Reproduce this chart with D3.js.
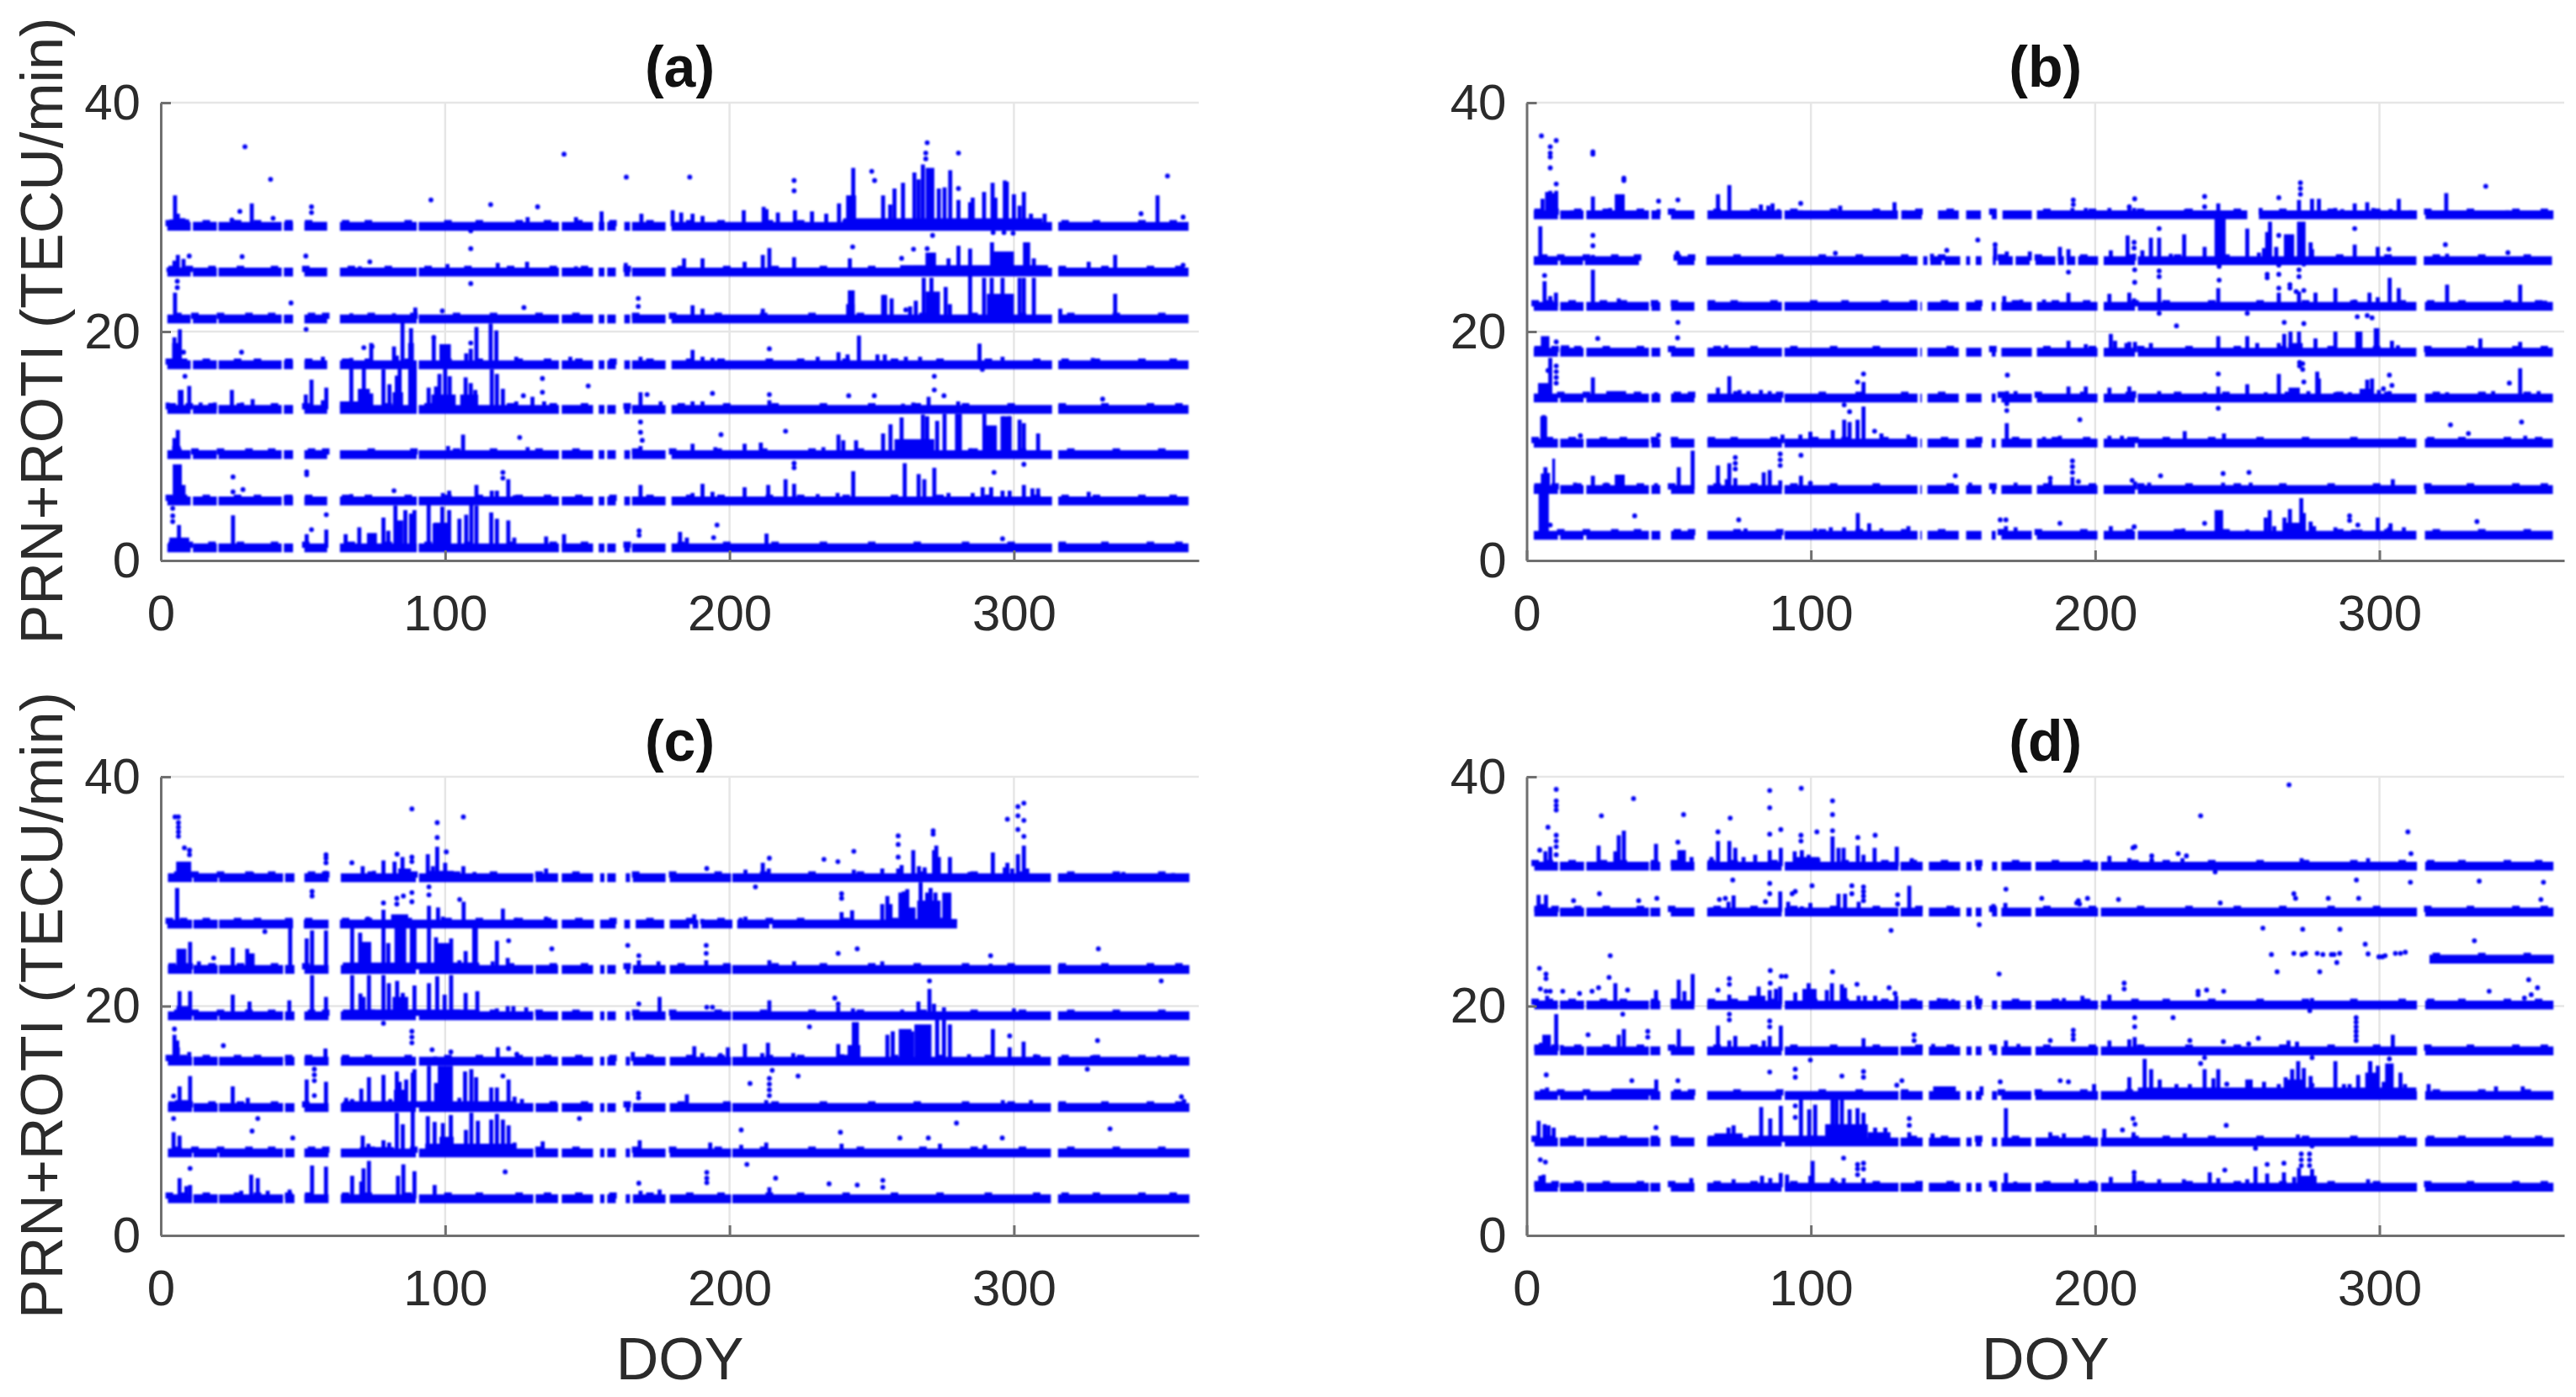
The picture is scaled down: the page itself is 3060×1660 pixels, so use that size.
<!DOCTYPE html>
<html><head><meta charset="utf-8">
<script src="https://cdnjs.cloudflare.com/ajax/libs/d3/7.8.5/d3.min.js"></script>
<style>html,body{margin:0;padding:0;background:#fff}svg{display:block}text{font-family:"Liberation Sans",Arial,sans-serif;fill:#2b2b2b}</style>
</head><body><svg id="c" width="3060" height="1660"></svg>
<script>
const panelTitles=['(a)','(b)','(c)','(d)'];
const doyTicks=[0,100,200,300];
const rotiTicks=[0,20,40];
const doyDomain=[0,365];
const rotiDomain=[0,40];
const yLabel='PRN+ROTI (TECU/min)';
const xLabel='DOY';

// row baselines, top row first
const basesA=[29.2,25.2,21.1,17.1,13.2,9.25,5.2,1.1];
const basesB=[30.2,26.2,22.2,18.2,14.2,10.25,6.2,2.2];
const basesC=[31.2,27.15,23.2,19.15,15.2,11.15,7.2,3.2];
const basesD=[32.2,28.2,24.1,20.1,16.1,12.2,8.15,4.2];

// days with data
const segmentsA=[[2.3,10.5],[11.3,19.7],[20.3,42.5],[43.3,46.5],[50.5,58.5],[63,90],[90.7,140],[141,152],[154,156],[157,160],[163,165],[165.7,177.5],[179.6,313.4],[315.6,361.4]];
const segmentsB=[[2.5,11],[11.8,20],[21,43],[43.9,47],[50.8,59],[63.6,89.8],[90.7,137.5],[138.5,139],[141,152],[154.6,160],[163.6,165],[167,177.7],[179.5,200.8],[203,214],[215,313],[316,361]];
const segmentsB0=[[2.5,11],[11.8,20],[21,43],[43.9,47],[50.8,59],[63.6,89.8],[90.7,130.6],[131.8,139],[144.7,152],[154.6,159.8],[163.6,165.4],[167.4,177.7],[179.5,253.5],[257.6,313.2],[316.2,361.2]];
const segmentsB1=[[2.5,11],[11.8,19.8],[20.5,39.5],[53,59],[63.2,137.5],[139.5,141],[142,146],[147,152.5],[154.6,156],[158,160],[164,165],[166,171],[172,177],[179,186],[187,189],[190,193],[194,201],[203,214],[215,313],[315.6,360.7]];
const segmentsC=[[2.5,11],[11.5,20],[20.5,43],[43.7,47],[50.5,59],[63.3,89.7],[90.8,131],[131.8,139.7],[141,152],[154.5,156],[157,160],[163.5,165],[166,177.5],[179,200.5],[201,313],[315.5,361.7]];
const segmentsC1=[[2.3,11],[11.5,20],[20.5,46.5],[50.3,59],[63,139.5],[141,152.3],[154.5,160],[163,165],[167,177],[179,186],[187,189],[190,201],[202.7,214],[215,280]];
const segmentsD=[[2.7,11],[11.7,20.2],[21,43],[43.5,47],[50.7,59],[63.5,89.7],[90.8,130.8],[131.5,139.3],[141.5,152.5],[154.7,156.5],[158,160],[163.7,165.5],[167,177.5],[179,201],[202,313.2],[316.1,361.2]];
const segmentsD2=[[317.6,361.3]];

// low bumps along the row tops: day of each bump
const bumpDays1=[3,8,16,27,34,45,52,65,73,87,101,112,126,136,147,159,172,186,197,214,225,241,258,274,291,308,318,329,345,356];
const bumpDays2=[4,10,18,28,40,51,67,80,94,108,123,138,149,164,183,199,216,233,250,266,283,299,317,332,348,358];
const bumpDays3=[6,12,21,31,39,53,58,74,89,104,117,133,146,167,180,196,212,229,246,268,286,303,320,336,352];

// columns rising from a row: [doy, top]
const spikesA=[
[[5,31.9],[6,30.3],[7,29.9],[8,29.9],[32,31.2],[129,30],[146,30],[155,30.5],[169,30.3],[180,30.6],[183,30.4],[187,30.3],[190.5,30.1],[205,30.6],[212,30.9],[213,30.7],[217,30.4],[223,30.6],[229,30.5],[234,30.3],[238.5,31.2],[243.5,34.3],[254,31.9],[256.5,31.1],[258,32.5],[261,33],[265,33.9],[266.5,33.3],[268,34.6],[273.6,32.5],[275.6,32.6],[277.6,34.1],[280.5,31.5],[284.6,31.3],[285.5,31.7],[289.5,32.2],[292.5,33],[293.5,31.7],[296.8,33.2],[297.5,33.1],[300,32],[302,31],[303.5,32.2],[306,30.3],[310.8,30.3],[350.5,31.9]],
[[6,26.7],[8,26.35],[4.8,26.2],[70,25.7],[100.8,25.9],[118.5,26],[128.8,26.1],[146,25.7],[163.5,26],[184,26.4],[190.5,26.4],[205.3,26.1],[211.7,26.7],[214,27.3],[222.7,26.5],[242.3,26.4],[277,26.4],[280.5,27.5],[284.6,27.25],[292.3,27.8],[303.9,27.8],[305,27.8],[307,26.4],[326.3,26.1],[335.6,26.7]],
[[5,23.4],[67,21.6],[82,21.6],[89.5,22.1],[187,22.3],[190.5,22],[211.7,22],[242.3,23.6],[243.3,23.6],[254,23.2],[254.7,23.2],[257,22.9],[265.5,22.7],[263.5,22.2],[268.3,24.7],[271,24.7],[276,23.9],[277.5,22.4],[284.6,24.9],[289.5,24.7],[292.2,24.7],[296,24.7],[302,24.7],[303.5,24.7],[307,24.7],[335.6,23.3],[316.3,22]],
[[6.7,20.2],[4.8,19.5],[85,20.8],[88,20.3],[67,17.7],[74,19],[82,18.7],[83,17.9],[96,19.5],[107.4,18.1],[109,18.5],[111,20.4],[116,20.7],[118,20.1],[125,17.8],[45,17.5],[57,17.8],[52,17.5],[144,17.8],[168.7,17.8],[187,18.4],[190.5,17.8],[194,17.7],[231,17.8],[238.3,18.2],[241.5,18],[245.5,19.65],[252,18],[254.6,18],[262,17.8],[267,17.8],[287.9,18.95],[296,17.8],[327.7,17.7]],
[[10,15.25],[2.4,13.8],[25,14.9],[32.3,14.1],[28.6,13.8],[14,13.8],[19,13.8],[53,15.8],[51,14.5],[58.2,15.1],[57,14],[67,16.9],[71.4,16.9],[74,14.6],[78.3,16.7],[80.4,15.4],[83,16.15],[84,16.9],[94.2,15.1],[96.8,15.2],[98,16.3],[100,16.9],[101.6,16.1],[107.2,16],[109,15.5],[110.6,14.9],[116.4,16.7],[118.2,16.3],[120.3,15],[125,13.9],[130.7,14.3],[134.8,13.9],[168.7,14.7],[175.8,13.9],[187,13.9],[190.5,13.9],[214,14],[261,13.7],[264.6,13.8],[270,14.3],[280.4,13.9]],
[[6,11.4],[4.8,10.7],[106.3,11],[101,10],[129,9.9],[168.7,10],[187,10.2],[195,9.9],[205.3,10.2],[211,10.3],[238.3,11],[240,10.5],[244.5,10.5],[233,9.9],[254,11.1],[256.6,11.9],[260.5,12.5],[268,12.75],[269.5,12.6],[273,12.2],[275.6,12.8],[280,12.8],[281,12.8],[289.6,12.8],[296,12.6],[298.5,12.6],[302,12.3],[303.5,12],[308.5,11.1],[284.6,9.8]],
[[8,6.6],[44,5.7],[67,5.8],[99.2,5.9],[101.4,6.1],[111,6.6],[116.4,6.1],[118.2,6.1],[122.2,7.1],[124.4,5.7],[135.5,5.7],[168.7,6.6],[187,5.9],[190.5,6.7],[194,6],[205.3,6.4],[213.6,6.6],[219.7,7.1],[222.7,6.7],[231,5.8],[238,5.9],[243.5,7.8],[261.6,8.5],[266.5,7.55],[268.5,7.1],[272,8.1],[277,5.9],[285.5,5.9],[289,6.4],[292,6.4],[296,6.1],[298.5,6.1],[303.5,6.6],[306.5,6.3],[308.5,6.3],[326.3,6]],
[[6.4,3.1],[25.4,3.95],[51.3,2.3],[58.2,2.7],[65,2.3],[69.8,2.9],[78.3,3.75],[80,2.6],[82.5,4.8],[86,4.4],[89.2,4.4],[88,4.1],[94.2,4.9],[96.3,3.25],[99,4.7],[101.4,4.4],[105,3.65],[107.4,4],[109.2,4.9],[111,4.8],[116.2,4.2],[118.2,3.65],[122.2,3.5],[124.3,2],[135.5,2.1],[141.8,2.3],[182.6,2.5],[185,2],[213,2.35]]];
const blocksA=[
[[3,10,29.8],[240,310,29.9],[241,244.5,31.9],[269,272,34.3]],
[[2,10,25.6],[260,312,25.8],[268.9,272.6,26.9],[292,300,27]],
[[241,244,22.4],[269,274,23.5],[290.5,300,23.3]],
[[4,7,19],[87,89,19],[98,102,18.9]],
[[6,8,14.9],[63,70,13.9],[69.3,73.5,15],[81.5,85.2,14.7],[87,90,16.9],[95.2,103.7,14.5],[105.3,111.6,14.5]],
[[4,7,10],[258,272,10.6],[290,294,11.8],[296,299,12.6]],
[[4.2,7.4,8.4]],
[[3,10,2],[72.5,76,2.4],[82,85.2,3.5],[96,101,3.3]]];
const dotsA=[
[[29.6,36.15],[38.6,33.3],[95,31.5],[116,31.1],[132.5,30.9],[141.8,35.5],[163.7,33.5],[27.8,30.5],[25,29.75],[39.5,29.9],[53,30.9],[53,30.4],[109,28.8],[186,33.5],[222.7,33.2],[222.7,32.3],[250,34],[251,33.2],[280.5,32.5],[280.5,35.6],[269.5,36.5],[269,35.6],[269,35.1],[354,33.6],[344.7,30.3],[359.5,30]],
[[10,26.6],[28.6,26.55],[51,26.6],[73.5,26.1],[109,27.25],[243.3,27.4],[260.5,26.4],[264.7,27.2],[269.5,27.25],[271.4,28.4],[292.7,28.65],[296.5,28.65],[299.7,28.6],[359.5,25.8]],
[[5.8,24.4],[5.8,23.85],[45.8,22.5],[109,24.2],[99,21.8],[127.7,22.1],[167.9,22.9],[167.9,22.2],[262,21.9]],
[[8,18.2],[28.4,18.2],[71.4,18.6],[74.3,18.7],[96,19.5],[109,19],[51.1,20.2],[214,18.5],[288.9,16.7]],
[[8.5,16.1],[127.5,14.4],[134.2,15.9],[134.2,14.7],[150.3,15.25],[171,14.5],[194,14.6],[214,14.5],[241.9,14.4],[250.9,14.4],[272,16.1],[272,14.9],[275.4,14.4],[331.2,14.1]],
[[126.2,10.75],[168.7,12.1],[168.7,11.2],[169.3,10.5],[197,11],[219.7,11.3]],
[[25.4,7.3],[25.4,6],[28.9,6.2],[51.3,7.75],[51.3,7.5],[82,6.1],[120.3,7.7],[120.3,7.2],[293,7.7],[303.5,8.4],[222.7,8.5],[222.7,8.1]],
[[4.2,4.55],[4.2,3.9],[4.2,3.4],[58.2,4],[53,2.7],[168.2,2.6],[168.2,2.2],[195.6,3.1],[194.4,2],[296,1.9]]];

const spikesB=[
[[5.6,31.6],[7.2,32.2],[8.3,32.3],[9.5,32.1],[10.4,32.3],[16,30.6],[23.3,31.8],[29.4,30.8],[39.4,30.6],[46.4,30.7],[67.3,32],[71.3,32.8],[82.4,31.1],[85,31],[86.5,31.2],[88.6,30.7],[96.4,30.6],[110.3,31],[129.4,31.3],[133,30.6],[164.2,30.5],[192,30.8],[196.7,30.8],[205,30.8],[212,31],[213.7,30.8],[231.9,30.7],[243.3,31.2],[258.2,30.8],[271.7,31.5],[276.3,31.6],[278.7,31.6],[284.5,30.8],[286.9,30.7],[291.3,31.2],[295.7,31.3],[297.8,30.8],[303.9,30.7],[306.8,31.6],[310.9,30.6],[323.5,32.1],[345,30.6]],
[[4.8,29.2],[23.3,26.7],[142.6,26.8],[164.8,27.4],[168.9,27],[177,27],[187.6,27.4],[190.6,27.2],[205.5,27.1],[211.4,28.4],[213.7,26.8],[216.6,27.1],[219.6,28.2],[222.5,28.2],[226.6,26.8],[231.3,28.5],[238.5,27.4],[253.5,29],[257.6,26.9],[259.4,27.3],[260.5,28.7],[261.5,29.6],[263.7,27.4],[275.8,27.8],[276.3,27.2],[291.3,27.6],[299.4,27.4],[323.8,26.8]],
[[6.3,24.4],[8.3,23.1],[10.3,23.4],[23.3,25.4],[32.4,22.9],[75,22.6],[168,23.1],[174,22.8],[182,22.8],[190.6,23.4],[205,23.3],[212,23.4],[213.7,22.9],[222.5,23.8],[243.3,23.8],[264.6,23.4],[277.5,23.4],[284.5,23.8],[291.3,22.8],[296.5,23.4],[299.4,23],[303.6,24.7],[306.8,23.8],[323.8,24.1],[349.5,24.1],[271.7,23.5]],
[[70.2,18.8],[190.6,19.2],[205.5,19.8],[207,19.2],[211,19],[212,19.1],[214,19.1],[219.6,19],[196.7,18.9],[243.3,19.6],[253.5,19.6],[257,19],[264.6,19],[266.5,19.8],[268.7,20],[271.7,20],[277.5,19.4],[284.5,20],[304.4,19.2],[306.5,18.8],[335.5,19.4],[349.5,19.1]],
[[8.3,17.7],[23.3,16],[45.5,14.7],[67.3,15.1],[71.3,16.1],[73.4,14.8],[74.9,14.9],[78,14.8],[82.4,14.9],[85.5,14.8],[118.5,15.6],[169,14.8],[172,14.8],[190.6,15.2],[196.7,15.2],[205,15.1],[212,15.2],[213.7,14.8],[222.5,14.8],[238.6,14.7],[243.3,15.2],[253.5,15.4],[260,14.7],[264.6,16.3],[278.1,16.5],[278.7,15.9],[275,14.8],[284.5,14.7],[289.6,14.7],[295.7,15.8],[297.4,15.9],[299.8,14.9],[303.5,14.8],[349.5,16.8],[323.8,14.7],[336.7,14.7],[340,14.8],[356,14.8]],
[[6,12.7],[90,11],[96.3,11],[99.8,11.25],[102,10.8],[107.7,11.4],[111.7,12.3],[113.6,12.1],[116.4,12.3],[118.5,13.45],[124.8,11.1],[134.3,11],[168.9,12],[171.9,10.8],[182,10.8],[187.6,10.9],[205,10.9],[209.4,10.9],[212,10.8],[231.5,11.3],[245.3,11.1],[351.3,10.9]],
[[6.6,8.15],[7.5,7.65],[17,6.8],[23.3,7.4],[28,6.8],[45.5,6.75],[53.5,8.15],[58.4,9.6],[67.3,8.3],[70.4,7.1],[71.3,8.5],[73.4,7.2],[83.4,7.7],[85.5,7.9],[89.2,7],[96.5,7.4],[156,6.8],[172,6.8],[184.2,7],[192,7.3],[214,6.9],[219,6.8],[245,6.8],[254.7,6.8],[304.7,7.1]],
[[77,2.8],[101.5,2.8],[107,2.9],[111.7,2.9],[116.5,4.15],[120.5,3.25],[124.8,2.8],[134.3,3],[168.6,3],[172,2.9],[205.5,3],[231,2.8],[253.5,2.7],[260,3.75],[261.4,4.4],[263,3],[266.6,3.75],[268.5,4.5],[270.5,3.2],[272.5,5.45],[273.4,4.15],[275.8,3.4],[277,3],[284.5,2.9],[299.4,3.75],[303.9,3.25],[303.3,2.9],[308.6,2.9]]];
const blocksB=[
[[31,34.5,32]],
[[242,245.9,30],[266.4,270,28.5],[271,274,29.6]],
[[355.4,359,22.7]],
[[5,8,19.6],[12,15,18.8],[268,273,19],[291.5,294,20],[298,300,20.3]],
[[4,8,15.5],[28,35,14.8],[268,272,15.1],[293,298,15]],
[[4.8,7.2,12.6]],
[[5,8,7.6],[9,10,8.9],[31,34.5,7.5]],
[[4.2,7.8,5.9],[242,245,4.4],[266,274,3.3],[290,294,2.7]]];
const dotsB=[
[[5.2,37.1],[8.3,36.15],[8.3,35.6],[8.3,35.25],[8.3,34.3],[10.4,36.7],[23.3,35.5],[23.3,35.7],[34.2,33.2],[34.2,33.4],[10.4,32.9],[46.4,31.4],[53.2,31.5],[96.4,31.2],[192.3,31.5],[192.3,31.1],[213.9,31.6],[212,30.9],[238.5,31.8],[238.5,30.9],[264.6,31.7],[272.2,33],[272.2,32.5],[272.2,32],[337.4,32.7]],
[[23.3,28.4],[23.3,27.5],[53,26.85],[158.7,28],[147.8,27.1],[108.6,26.85],[164.8,27.6],[213.7,27.8],[213.7,27.3],[222.5,29],[264.6,28.4],[291.3,29],[303.3,27.2],[323.2,27.6],[345.2,26.9],[243.6,25.7],[264.6,25.8],[273.4,25.9]],
[[6.3,24.9],[190.6,25.2],[213.9,25.4],[213.9,24.3],[222.5,25.3],[222.5,24.8],[243.6,24.5],[260.5,25],[260.5,24.7],[264.6,25],[264.6,23.8],[268.5,24.1],[268.5,23.8],[271.7,25.4],[271.7,24.8],[270.7,23.5],[273.4,23.6]],
[[10.4,19.1],[25,19.4],[53.2,20.8],[53.1,19.45],[253.5,21.6],[222.5,21.6],[228.6,20.5],[266.5,20.8],[273.4,20.7],[292.2,21.3],[295.7,21.4],[297.4,21.2]],
[[7.5,16.6],[10.4,17],[10.4,16.5],[10.4,16],[10.4,15.5],[118.5,16.3],[116.4,15.6],[169.1,16.2],[243.3,16.3],[271.9,17.3],[271.9,17],[273,17.2],[273,16.7],[273.4,15.6],[301.4,15],[303.5,16.2],[304.4,15.3],[345.7,15.5]],
[[18.9,10.9],[46.4,10.95],[111.7,13.6],[113.6,13],[122.4,11.3],[168.9,13.7],[168.9,13.1],[194.6,12.3],[243.3,13.3],[325,11.85],[331.3,11.1],[350,12.1]],
[[96.5,9.2],[99.8,6.75],[150.8,7.4],[73.4,9],[73.4,8.5],[73.4,8],[89.2,9.3],[89.2,8.8],[89.2,8.3],[184.2,7.2],[192,8.7],[192,8.2],[192,7.7],[194.1,6.9],[213,7],[223,7.4],[245,7.6],[254.1,7.7]],
[[8.3,3.1],[38,3.9],[74.6,3.55],[166.6,3.55],[168.6,3.55],[187.6,3.25],[213.7,2.95],[238.5,3.25],[289.5,3.9],[289.5,3.5],[292.4,3.1],[334.3,3.4]]];

const spikesC=[
[[32.1,31.7],[58,31.8],[71,32.2],[75,31.8],[78.3,32.7],[82.2,32.6],[85,33],[93.9,33.25],[95.7,32.2],[97.2,33.9],[100,32.5],[106.4,32.2],[110.3,31.7],[135.5,32],[133,31.7],[205.6,31.9],[211.7,32.5],[213.8,32],[243.7,31.9],[253.7,32],[259.3,32],[260.5,32.3],[264.6,33.6],[266.6,32.2],[268.6,32.1],[271.9,33.6],[272.7,34],[273.6,33],[277.5,33],[284.4,31.7],[292.6,33.4],[296.8,32.1],[297.7,32.5],[299.4,32],[301.4,33.25],[303.5,34],[304.7,32],[338.5,31.7],[356,31.6]],
[[78.3,28.4],[94.3,28.75],[97.5,28.6],[99.2,27.8],[106.5,29.1],[72.8,27.8],[120.3,28.5],[124.8,27.7],[135.5,27.8],[187.6,28],[190.4,27.6],[203.9,27.7],[205.6,27.8],[239.4,28.2],[243.1,28.35],[253.7,28.9],[255.5,29.6],[256.6,28.9],[260.1,29.9],[261.3,30],[262.5,30.2],[267.2,30.8],[269.5,29.9],[270.7,30.3],[272.4,29.9]],
[[45.5,27],[10.3,25.6],[25.3,25.1],[30.4,25],[51.3,25.9],[53.2,26.6],[58.1,26.6],[67.3,27],[70.1,26.4],[78.3,27],[80,25.5],[89.2,27],[88.3,27],[94.3,27],[96.8,26],[102.1,25.9],[105,24],[107.2,24.8],[118.2,25.7],[122,24.2],[116.7,23.9],[13.4,23.9],[191.8,24],[214,24],[222.7,23.9],[253.7,23.9],[291.8,23.7],[168.1,24],[175,23.9]],
[[6.6,21.3],[10.3,21.3],[25.3,21],[31.2,20.4],[45.2,20.5],[53.2,22.7],[58.1,20.8],[67.3,22.7],[70.2,21.1],[71.3,20.8],[73.2,22.7],[78.3,22.7],[80.2,22],[83.1,22.2],[85.1,21.15],[89.2,21.8],[94.3,22],[97.2,22.6],[99.8,21],[102.1,22.7],[107.2,21.15],[111.3,21.3],[118.2,19.8],[122,20],[124,20],[128.5,19.9],[175.4,20.8],[214,20.5],[238.2,20],[243.4,19.8],[266.4,20.4],[270.3,21.5],[271.9,20.2],[275.4,19.9],[260.7,19.7],[300,19.8]],
[[4.8,17.5],[6,16.4],[10,16],[45,15.7],[57.9,16.3],[96.5,15.6],[118.5,16.4],[166,16],[171.3,15.8],[187.6,16.5],[190.4,15.9],[192.8,15.6],[196.8,15.9],[199.4,16.4],[205.4,16.7],[211.5,15.9],[213.5,16.8],[222.4,15.9],[238.2,16.7],[239.6,15.8],[255.5,17.5],[257.4,17.8],[264.2,17.8],[273,19],[275.4,18.9],[277.5,18.4],[284.2,15.8],[292.6,18],[298.5,16.4],[303.4,16.9],[307.6,15.8],[327.5,15.7],[351,15.7]],
[[6.6,13],[10.3,13.9],[25.3,13],[30.6,12],[51.3,13.6],[58.1,13.4],[65.2,12],[67.3,11.9],[70.5,12.8],[73.2,13.8],[78.3,14],[80.7,11.9],[83,14.3],[84,13.4],[86.3,13.6],[88.6,14.2],[89.2,14.5],[94.3,14.8],[96.8,13.3],[105,12],[107,14.3],[109.2,14.5],[110.9,13.8],[116.2,12.9],[118.2,12.9],[122.3,13.6],[124.4,12.1],[127,11.9],[185,12.3],[212.9,11.8],[296.1,11.8],[306,11.8]],
[[4.5,9],[6.6,8.7],[71,8.7],[73,8],[78.3,8.3],[80.3,8.1],[83,10.7],[85.1,9.7],[88.6,10.8],[93.9,10.4],[96.3,9.9],[99.2,9.8],[102,10.5],[107.3,9.2],[109.2,10.7],[111.5,10],[116.2,10.1],[118.2,10.6],[120.3,10.1],[122.3,9.6],[124.4,8.1],[134.3,8.2],[168.4,8.3],[193.2,8.1],[204.1,7.9],[212.9,8.1],[239.4,8],[274,8]],
[[6.6,5],[10.3,4.4],[9,4.3],[31.8,5.3],[34.1,5],[28.3,3.9],[37.6,3.9],[45.3,4],[53.2,6.1],[58.1,6],[67.3,5.2],[70.5,4.7],[71.3,5.85],[73.2,6.5],[83.4,5.2],[85.3,6.2],[89.2,5.6],[96.3,4.4],[168.7,3.9],[175.4,4],[214,4.2]]];
const blocksC=[
[[5.4,10.7,32.6],[83.5,88,32],[94,103,31.8]],
[[5,6.5,30.3],[81,87,28],[260.7,265.4,28.6],[266,274.2,29.2],[274.8,278,29.9],[258,280,27.6]],
[[5.5,9,25],[30,33,24.6],[70,74,25.6],[82.2,86.3,27],[96.5,102,25.5],[109.5,111.5,26.8],[64,112,23.8]],
[[5.5,10.5,20],[81.5,87,20.8],[64,112,19.7]],
[[4.5,6.5,17],[241.5,246,16.6],[243,245.5,18.6],[259.5,264,18],[265,271,18.4]],
[[5,10.5,11.8],[82,86.5,12.7],[97.4,102.7,14.8],[64,125,11.7]],
[[98,103,8.6],[70,82,7.7],[93,125,8]],
[]];
const dotsC=[
[[88.3,37.2],[97.2,36],[106.4,36.5],[97.2,34.7],[8.3,33.8],[10.1,33.6],[10.1,33.2],[6.2,36.5],[6.2,36],[6.2,35.6],[6.2,35.2],[6.2,34.8],[5,36.5],[58.1,33.2],[58.1,32.9],[58.1,32.5],[67.2,32.5],[83.1,33.25],[88.3,33],[88.3,32.6],[100.4,33.45],[192,32],[214,32.9],[233.2,32.8],[238.1,32.6],[243.7,33.5],[259.3,34.85],[259.3,34.1],[259.3,33],[271.6,35.3],[271.6,35],[297.7,36.3],[301.4,37.4],[301.4,36.6],[301.4,35.4],[303.5,37.7],[303.5,36.2],[303.5,34.8]],
[[53.2,30],[53.2,29.6],[78.3,29],[83,29.4],[83,28.9],[85.3,29.6],[88.3,29.9],[88.3,29.1],[94.3,30.4],[94.3,29.7],[105.1,29.3],[209.1,30.4],[239.4,29.8],[239.4,29.4]],
[[36.6,26.5],[18.6,24.2],[122.3,25.7],[137.5,25],[164.2,25.3],[168.1,24.4],[191.8,25.3],[191.8,24.6],[238.2,24.6],[244.9,25],[291.8,24.4],[329.7,25]],
[[78.3,18.5],[168.1,20.2],[192,19.9],[194,19.9],[237,20.7],[238.2,20.2],[270.3,22.2],[351.8,22.2]],
[[4.8,18],[22,16.55],[88.3,17.8],[88.3,17.3],[88.3,16.8],[95.4,16.2],[102,16],[122.3,16.3],[125.2,15.8],[228.1,18.2],[329.4,17],[298.5,17.4]],
[[4.5,12.15],[4.5,10.2],[54,14.5],[54,14],[54,13.5],[54,12.2],[120.3,13.9],[168,12.4],[168,12],[214,13.7],[214,13.2],[214,12.7],[214,12.2],[215,14.4],[207.2,13.25],[224.1,13.9],[325.8,14.5],[358.9,12.1],[359.8,11.7]],
[[34.1,10.2],[32.1,9.1],[46.4,8.5],[147.2,10.2],[204.1,9.2],[239,9],[259.9,8.5],[269.9,8.5],[279.8,9.8],[289.8,7.7],[295.9,8.5],[333.8,9.3]],
[[10.3,5.85],[121.1,5.55],[168.1,4.55],[206.1,6.2],[216.2,5],[192,5.5],[192,5],[192,4.6],[235,4.5],[244.9,4.4],[253.9,4.8],[253.9,4.2]]];

const spikesD=[
[[6.6,33.5],[8.3,33.9],[25.3,34],[31.2,33.5],[32.4,34.9],[34.2,35.3],[45.5,34.15],[58,33],[65,33],[67.3,34.4],[71.3,34.4],[73.4,33.8],[76.3,33],[80.4,33.2],[85.5,33.6],[89.4,33.8],[94.3,33.5],[96.8,33.6],[99.2,33.2],[102.6,32.9],[107.6,34.8],[109.7,33.8],[111.5,33.8],[116.5,34],[118.5,33.2],[122.4,33.8],[130.2,33.9],[135.5,32.9],[205,33.1],[212,32.9],[214,32.7],[230.7,32.9],[272.6,32.9],[296,32.9]],
[[4.2,29.7],[6.8,29.7],[5.4,28.9],[72.8,29.65],[71,29.1],[65,28.6],[89.2,30],[92,29.1],[99.8,29],[96.8,28.7],[109.7,29.8],[112,29.8],[116.8,29.1],[134.6,30.5],[164.2,28.9],[168.4,29]],
[],
[[7.2,20.9],[31.2,22],[45.5,21.4],[53.5,22.3],[55.5,21.3],[58.4,22.8],[71.3,21],[81.6,21.7],[85.5,21.4],[87.7,21.5],[89.2,21.7],[99.2,22],[94.5,21.2],[105.6,21.4],[107.4,22],[110.9,21.9],[112,21.6],[116.8,20.9],[119,20.9],[130,20.9],[158.4,20.9],[122.6,20.9],[145,20.7],[150,20.6],[205,21],[189,20.7],[195.5,20.9],[276.3,20.7]],
[[5,16.8],[10.4,19.3],[12.4,16.6],[32.4,17.5],[34.2,18],[53.5,18],[67.3,18.3],[71.3,17],[73.4,17.4],[83.4,17],[85.5,17.4],[89.4,18.3],[118.5,17.2],[168.6,17],[143,16.7],[173,16.7],[205,17],[212,17.1],[213.9,17.3],[304.7,17.5],[268,17],[271,16.9]],
[[45.6,13.6],[7.2,12.9],[160,13],[199.6,13.2],[212,13.8],[217.4,15.4],[219.7,14.5],[222.7,13.6],[228.6,13.2],[233.3,13.2],[238.5,14.5],[241.6,13.7],[243.3,14.5],[253.5,13.6],[254.7,13.6],[259.4,13.4],[264.6,13.2],[267,13.8],[269.3,14.5],[271.4,15.2],[273.4,14.6],[275.8,13.9],[284.5,15.2],[287.5,13.2],[289.5,13.2],[292.5,14],[299.4,14.8],[301.5,13.4],[307.4,14.2],[309,13.2],[341,13],[317.3,13.2],[350.4,13]],
[[4.2,10],[6.3,9.7],[7.7,9.6],[9.5,9.4],[71,9.4],[72.8,9.6],[82.5,11.2],[85.7,10.2],[89.4,11.3],[96.5,11.9],[99.4,11],[101.5,11.4],[107.6,11.9],[109,11.9],[110.9,11.9],[113.6,11],[116.4,11.1],[118.5,10.7],[122.6,9.4],[126.2,9.4],[134.6,9],[168.6,11.1],[142.8,8.9],[184.2,9],[189,8.9],[203.2,9.3],[213.5,9],[231.5,8.9],[271.3,8.8]],
[[4.8,5.2],[6,5.3],[57.9,5],[72.8,4.9],[82.8,5.2],[85.7,5],[89.4,5.45],[91.6,5.3],[100.6,6.5],[99.8,5.2],[107.6,5],[111.5,5],[118.5,5],[168.6,5.45],[171.9,4.7],[193.4,4.9],[205.5,5.1],[213.7,5.3],[222.5,4.9],[231.2,4.9],[240.3,5.5],[243.3,5],[253.5,4.9],[256.4,6],[260.5,5.4],[266.4,5.5],[270,5.1],[271.7,5.9],[276.3,5.8],[277.2,5.2],[296,4.9]]];
const blocksD=[
[[53,56,33.6],[94,103,33]],
[],
[],
[[78,84,20.9],[97,102,21.5]],
[[5.5,8.5,17.5],[10,11,19.3]],
[[143,151,13],[30,45,12.8],[215,313,12.9],[267,274,13.6],[295,299,14.2],[296,297.5,15.2],[302,305,15]],
[[66,76,8.9],[105,120,9.7],[120,128,9],[78,105,8.7]],
[[5,6.5,5.2],[272,277,5.2]]];
const dotsD=[
[[10.4,38.9],[10.4,37.9],[10.4,37.5],[10.4,37.1],[10.4,34.9],[10.4,34.4],[10.4,33.9],[10.4,33.2],[7.5,35.6],[37.6,38.1],[26.3,36.6],[55.2,36.7],[53.2,34.3],[67.3,35.2],[71.6,36.4],[85.5,38.8],[85.5,37.3],[85.5,35],[89.4,35.4],[96.6,39],[96.5,34.9],[96.5,34.4],[102.1,35.2],[107.6,37.9],[107.6,36.7],[107.6,35.3],[122.6,34.9],[116.5,34.7],[4.6,33.6],[237.1,36.6],[268.2,39.3],[310,35.2],[311.1,33.3],[213.3,33.8],[214,33.9],[219.9,33.1],[219.9,32.7],[229.2,33.3],[232.1,33.1],[242.2,31.7]],
[[72.5,31],[85.5,30.7],[85.5,29.8],[100.4,30.5],[94.5,30],[93.4,29.8],[114.4,30.5],[114.4,29.8],[118.5,30.4],[118.5,30],[118.5,29.6],[118.5,29.2],[130.5,29.7],[130.5,28.9],[168.6,30.2],[181.2,29.4],[16.5,29.2],[25.6,29.8],[39.4,29.2],[45.8,29.4],[69.9,29.4],[67.8,29.3],[84,29.1],[194.1,29.2],[193.5,29],[194.5,28.9],[197.3,29.4],[208.2,29.3],[244,29],[269.9,29.8],[270.5,29.4],[282,29.4],[291.9,31],[292.7,29.4],[310.9,30.8],[335.1,30.9],[357.7,30.8],[356.8,29.3]],
[[128.2,26.6],[159.2,27.1],[259,26.8],[262,24.5],[273,26.7],[286.1,26.7],[269.9,24.6],[272.8,24.5],[274,24.6],[278.1,24.6],[280.1,24.5],[283.1,24.5],[284,24.5],[286,24.6],[285,23.8],[264,23],[279,23],[295,25.4],[296,24.55],[299.8,24.3],[301,24.3],[302,24.4],[305.6,24.6],[307.4,24.6],[309.1,24.7],[333.4,25.7]],
[[4.5,23.3],[6.8,22.8],[6.8,22.4],[4.8,21.5],[8.3,21.3],[6.8,21.3],[12.7,21.3],[18.6,21.1],[23,21.3],[25.3,21.6],[29.4,24.4],[29,22.5],[35.5,21.4],[85.7,23.1],[85.7,22],[89.6,22.6],[91.2,22.6],[107.6,23],[116.2,21.9],[127.5,21.6],[166.2,22.8],[67.3,21.4],[71.3,22.4],[71.3,21.9],[129.6,21.1],[210.2,22],[210.2,21.5],[236.2,21.3],[236.2,21],[239.2,21.4],[245.2,21.3],[338.6,21.3],[352.5,22.3],[355.6,21.6],[353.4,21],[351,20.7]],
[[21.6,17.5],[33.8,19.3],[42.6,17.8],[42.6,17.3],[71.3,19.3],[71.3,18.8],[85.5,18.7],[85.5,18.2],[136.3,17.5],[136.3,17],[184.2,17],[192.3,17.9],[192.3,17.5],[192.3,17.1],[213.9,19],[213.9,18.2],[227.4,19],[233.3,17],[245.1,16.9],[254,16.7],[257.4,17.2],[275.5,19.6],[291.8,19],[291.8,18.6],[291.8,18.2],[291.8,17.8],[291.8,17.4],[291.8,17]],
[[6.9,14],[37,13.5],[53.2,13.5],[85.5,14.25],[94.5,14.5],[94.5,13.8],[99.8,15.3],[110.9,13.9],[118.5,14.3],[118.5,13.8],[132,13.5],[130.2,13.1],[166.6,13.4],[187.7,13.5],[190.6,13.4],[237.1,15],[238.5,15.5],[246.3,13.2],[276.3,15.5],[276.3,13.1],[303.5,15.4]],
[[45.5,9.4],[94.5,11.3],[94.5,10.3],[134.6,10.2],[134.6,9.6],[209.6,9.2],[213.3,10.2],[214,9.7],[246.1,9.6],[256.4,7.6],[276.3,7.8]],
[[4.8,6.6],[6.6,6.4],[111.5,6.75],[116.4,6.2],[116.4,5.8],[116.4,5.3],[118.5,6.3],[118.5,5.8],[213.7,5.5],[245.6,5.7],[260.5,6.2],[266.4,6.3],[272.5,7.1],[272.5,6.6],[272.5,6.1],[275.4,7.1],[275.4,6.6],[275.4,6.1]]];

// layout (pixels) and look
const panelBoxes=[
 {x0:191,x1:1424,y0:666,y1:122,ylab:true,xlab:false},
 {x0:1813.5,x1:3046,y0:666,y1:122,ylab:false,xlab:false},
 {x0:191,x1:1424,y0:1468,y1:923,ylab:true,xlab:true},
 {x0:1813.5,x1:3046,y0:1468,y1:923,ylab:false,xlab:true}];
const markColor='#0000f5';
const bumpRise=0.55;
const svg=d3.select('#c');
const defs=svg.append('defs');
defs.append('filter').attr('id','soft').append('feGaussianBlur').attr('stdDeviation',0.8);
const bumpSets=[bumpDays1,bumpDays2,bumpDays3];

function drawPanel(panelIdx,box,title,bases,segs,spikes,blocks,dots){
  const x=d3.scaleLinear().domain(doyDomain).range([box.x0,box.x1]);
  const y=d3.scaleLinear().domain(rotiDomain).range([box.y0,box.y1]);
  const g=svg.append('g');
  g.selectAll('line.gx').data(doyTicks.slice(1)).join('line').attr('x1',d=>x(d)).attr('x2',d=>x(d)).attr('y1',box.y0).attr('y2',box.y1).attr('stroke','#e6e6e6').attr('stroke-width',2.5);
  g.selectAll('line.gy').data(rotiTicks.slice(1)).join('line').attr('x1',box.x0).attr('x2',box.x1).attr('y1',d=>y(d)).attr('y2',d=>y(d)).attr('stroke','#e6e6e6').attr('stroke-width',2.5);
  const m=g.append('g').attr('filter','url(#soft)');
  bases.forEach((b,i)=>{
    const r=m.append('g');
    const bumps=bumpSets[(panelIdx+i)%3].filter(d=>segs[i].some(s=>d>=s[0]&&d<=s[1]));
    r.selectAll('line.s').data(segs[i]).join('line').attr('x1',d=>x(d[0])).attr('x2',d=>x(d[1])).attr('y1',y(b)).attr('y2',y(b)).attr('stroke',markColor).attr('stroke-width',10.5);
    r.selectAll('line.b').data(bumps).join('line').attr('x1',d=>x(d)).attr('x2',d=>x(d)).attr('y1',y(b)).attr('y2',y(b+bumpRise)).attr('stroke',markColor).attr('stroke-width',9);
    r.selectAll('rect').data(blocks[i]).join('rect').attr('x',d=>x(d[0])).attr('width',d=>x(d[1])-x(d[0])).attr('y',d=>y(d[2])).attr('height',d=>y(b)-y(d[2])).attr('fill',markColor);
    r.selectAll('line.p').data(spikes[i]).join('line').attr('x1',d=>x(d[0])).attr('x2',d=>x(d[0])).attr('y1',y(b)).attr('y2',d=>y(d[1])).attr('stroke',markColor).attr('stroke-width',4.8);
    r.selectAll('circle').data(dots[i]).join('circle').attr('cx',d=>x(d[0])).attr('cy',d=>y(d[1])).attr('r',2.9).attr('fill',markColor);
  });
  const ax=g.append('g').attr('transform',`translate(0,${box.y0})`).call(d3.axisBottom(x).tickValues(doyTicks).tickSizeInner(-12).tickSizeOuter(0).tickPadding(40).tickFormat(d3.format('d')));
  const ay=g.append('g').attr('transform',`translate(${box.x0},0)`).call(d3.axisLeft(y).tickValues(rotiTicks).tickSizeInner(-12).tickSizeOuter(0).tickPadding(24).tickFormat(d3.format('d')));
  [ax,ay].forEach(a=>{a.selectAll('.domain').attr('stroke','#707070').attr('stroke-width',3);a.selectAll('.tick line').attr('stroke','#707070').attr('stroke-width',3);a.selectAll('text').attr('font-size',60).attr('font-family','"Liberation Sans",Arial,sans-serif').attr('fill','#2b2b2b');});
  const cx=(box.x0+box.x1)/2;
  g.append('text').attr('x',cx).attr('y',box.y1-19).attr('text-anchor','middle').attr('font-size',68).attr('font-weight','bold').style('fill','#111').text(title);
  if(box.ylab) g.append('text').attr('transform',`translate(74,${(box.y0+box.y1)/2-1}) rotate(-90)`).attr('text-anchor','middle').attr('font-size',70).text(yLabel);
  if(box.xlab) g.append('text').attr('x',cx).attr('y',box.y0+171).attr('text-anchor','middle').attr('font-size',70).text(xLabel);
}
const same=(s,n,ex)=>d3.range(n).map(i=>ex[i]||s);
drawPanel(0,panelBoxes[0],panelTitles[0],basesA,same(segmentsA,8,{}),spikesA,blocksA,dotsA);
drawPanel(1,panelBoxes[1],panelTitles[1],basesB,same(segmentsB,8,{0:segmentsB0,1:segmentsB1}),spikesB,blocksB,dotsB);
drawPanel(2,panelBoxes[2],panelTitles[2],basesC,same(segmentsC,8,{1:segmentsC1}),spikesC,blocksC,dotsC);
drawPanel(3,panelBoxes[3],panelTitles[3],basesD,same(segmentsD,8,{2:segmentsD2}),spikesD,blocksD,dotsD);
</script></body></html>
